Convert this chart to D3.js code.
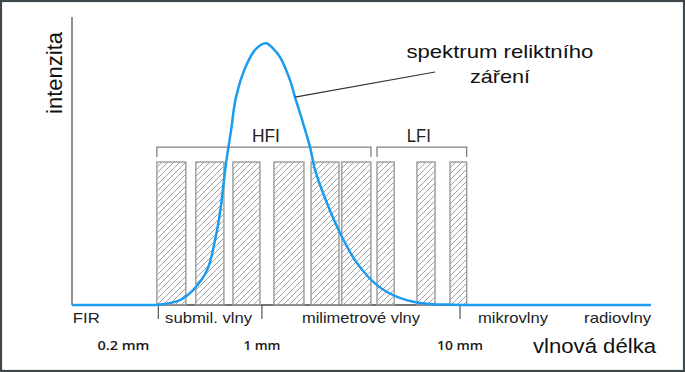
<!DOCTYPE html>
<html>
<head>
<meta charset="utf-8">
<script src="https://cdn.jsdelivr.net/npm/d3@7"></script>
<style>
  html, body { margin: 0; padding: 0; background: #fff; }
  svg { display: block; font-family: "Liberation Sans", Arial, sans-serif; }
</style>
</head>
<body>
<div id="chart"></div>
<script>
// relic radiation spectrum: wavelength in mm (log axis), intensity relative to the peak
const curveLambda = [0.11, 0.243, 0.306, 0.386, 0.449, 0.529, 0.58, 0.614, 0.659, 0.699, 0.74, 0.831, 0.933, 1.049, 1.137, 1.234, 1.386, 1.469, 1.613, 1.749, 1.854, 2.034, 2.478, 3.02, 3.811, 4.81, 6.28, 9.22, 15, 92]
const curveIntensity = [0, 0, 0.002, 0.019, 0.057, 0.134, 0.248, 0.351, 0.542, 0.668, 0.794, 0.913, 0.978, 1.0, 0.98, 0.947, 0.859, 0.794, 0.695, 0.603, 0.516, 0.428, 0.275, 0.16, 0.076, 0.031, 0.008, 0.001, 0, 0]

// detector channels (mm)
const channelStart = [0.295, 0.464, 0.714, 1.15, 1.77, 2.53, 3.81, 6.06, 8.9]
const channelEnd = [0.413, 0.643, 0.977, 1.63, 2.45, 3.55, 4.65, 7.48, 10.8]
const channelLevel = 0.546

// instruments and which channels they cover
const instruments = ["HFI", "LFI"]
const instrumentFirst = [0, 6]
const instrumentLast = [5, 8]

// wavelength bands
const bandNames = ["FIR", "submil. vlny", "milimetrové vlny", "mikrovlny", "radiovlny"]
const bandEdges = [0.3, 1, 10]

// tick labels under the axis
const tickValues = [0.2, 1, 10]
const tickLabels = ["0.2 mm", "1 mm", "10 mm"]

const width = 685
const height = 372

const svg = d3
  .select("#chart")
  .append("svg")
  .attr("width", width)
  .attr("height", height)

// frame
svg
  .append("rect")
  .attr("x", 1)
  .attr("y", 1)
  .attr("width", width - 2)
  .attr("height", height - 2)
  .attr("fill", "#fff")
  .attr("stroke", "#3e484c")
  .attr("stroke-width", 2.2)

const xScale = d3.scaleLog().domain([0.11, 92]).range([72, 651])
const yScale = d3.scaleLinear().domain([0, 1.1]).range([305, 17])

// hatch pattern for the channels
const defs = svg.append("defs")
const pattern = defs
  .append("pattern")
  .attr("id", "hatch")
  .attr("patternUnits", "userSpaceOnUse")
  .attr("width", 6)
  .attr("height", 6)
pattern
  .append("path")
  .attr("d", "M0,6 L6,0 M-1.5,1.5 L1.5,-1.5 M4.5,7.5 L7.5,4.5")
  .attr("stroke", "#8a8a8a")
  .attr("stroke-width", 0.8)

// axes
svg
  .append("line")
  .attr("x1", xScale.range()[0])
  .attr("x2", xScale.range()[0])
  .attr("y1", yScale.range()[1])
  .attr("y2", yScale(0))
  .attr("stroke", "#555")
  .attr("stroke-width", 1.3)

svg
  .append("line")
  .attr("x1", xScale.range()[0])
  .attr("x2", xScale.range()[1])
  .attr("y1", yScale(0))
  .attr("y2", yScale(0))
  .attr("stroke", "#444")
  .attr("stroke-width", 1.3)

// band boundary ticks
svg
  .selectAll(".edge")
  .data(bandEdges)
  .enter()
  .append("line")
  .attr("x1", d => xScale(d))
  .attr("x2", d => xScale(d))
  .attr("y1", yScale(0))
  .attr("y2", yScale(0) + 14)
  .attr("stroke", "#555")
  .attr("stroke-width", 1.2)

// channels
const channels = channelStart.map((s, i) => ({ start: s, end: channelEnd[i] }))
svg
  .selectAll(".channel")
  .data(channels)
  .enter()
  .append("rect")
  .attr("x", d => xScale(d.start))
  .attr("y", yScale(channelLevel))
  .attr("width", d => xScale(d.end) - xScale(d.start))
  .attr("height", yScale(0) - yScale(channelLevel))
  .attr("fill", "url(#hatch)")
  .attr("stroke", "#9a9a9a")
  .attr("stroke-width", 1.4)

// instrument brackets
const bracketTop = yScale(channelLevel) - 15
const bracketData = instruments.map((name, i) => ({
  name,
  x0: xScale(channelStart[instrumentFirst[i]]),
  x1: xScale(channelEnd[instrumentLast[i]]),
}))
svg
  .selectAll(".bracket")
  .data(bracketData)
  .enter()
  .append("path")
  .attr("d", d => `M${d.x0},${bracketTop + 10} V${bracketTop} H${d.x1} V${bracketTop + 10}`)
  .attr("fill", "none")
  .attr("stroke", "#808080")
  .attr("stroke-width", 1.3)

svg
  .selectAll(".instr")
  .data(bracketData)
  .enter()
  .append("text")
  .attr("x", d => (d.x0 + d.x1) / 2 + (d.name === "HFI" ? 2 : -3))
  .attr("y", bracketTop - 5)
  .attr("text-anchor", "middle")
  .attr("font-size", "17.5px")
  .attr("fill", "#222")
  .attr("textLength", d => (d.name === "HFI" ? 28 : 24))
  .attr("lengthAdjust", "spacingAndGlyphs")
  .text(d => d.name)

// spectrum curve
const curvePoints = curveLambda.map((l, i) => [l, curveIntensity[i]])
const line = d3
  .line()
  .x(d => xScale(d[0]))
  .y(d => Math.min(yScale(0), yScale(d[1])))
  .curve(d3.curveCatmullRom.alpha(0.5))

svg
  .append("path")
  .attr("d", line(curvePoints))
  .attr("fill", "none")
  .attr("stroke", "#1b9cf0")
  .attr("stroke-width", 2.5)

// annotation
svg
  .append("line")
  .attr("x1", xScale(1.469))
  .attr("y1", yScale(0.794))
  .attr("x2", xScale(7.48))
  .attr("y2", yScale(0.89))
  .attr("stroke", "#333")
  .attr("stroke-width", 1.2)

const noteLines = ["spektrum reliktního", "záření"]
const noteLengths = [187, 60]
svg
  .selectAll(".note")
  .data(noteLines)
  .enter()
  .append("text")
  .attr("x", xScale(15.9))
  .attr("y", (d, i) => 58 + i * 25)
  .attr("text-anchor", "middle")
  .attr("font-size", "18.5px")
  .attr("fill", "#111")
  .attr("textLength", (d, i) => noteLengths[i])
  .attr("lengthAdjust", "spacingAndGlyphs")
  .text(d => d)

// band labels
const bandLabelAt = [0.13, 0.538, 3.16, 18.5, 62.4]
const bandLengths = [27, 87, 118, 70, 67]
svg
  .selectAll(".band")
  .data(bandNames)
  .enter()
  .append("text")
  .attr("x", (d, i) => xScale(bandLabelAt[i]))
  .attr("y", 323)
  .attr("text-anchor", "middle")
  .attr("font-size", "14.5px")
  .attr("fill", "#222")
  .attr("textLength", (d, i) => bandLengths[i])
  .attr("lengthAdjust", "spacingAndGlyphs")
  .text(d => d)

// wavelength tick labels
const tickLengths = [52, 37, 46]
svg
  .selectAll(".tick-label")
  .data(tickValues)
  .enter()
  .append("text")
  .attr("x", d => xScale(d))
  .attr("y", 350)
  .attr("text-anchor", "middle")
  .attr("font-family", "'Open Sans', sans-serif")
  .attr("font-weight", 600)
  .attr("font-size", "13px")
  .attr("fill", "#1a1a1a")
  .attr("textLength", (d, i) => tickLengths[i])
  .attr("lengthAdjust", "spacingAndGlyphs")
  .text((d, i) => tickLabels[i])

// axis titles
svg
  .append("text")
  .attr("x", 656)
  .attr("y", 353)
  .attr("text-anchor", "end")
  .attr("font-size", "20.5px")
  .attr("fill", "#111")
  .attr("textLength", 123)
  .attr("lengthAdjust", "spacingAndGlyphs")
  .text("vlnová délka")

svg
  .append("text")
  .attr("transform", "translate(62, 73) rotate(-90)")
  .attr("text-anchor", "middle")
  .attr("font-size", "21.5px")
  .attr("fill", "#111")
  .attr("textLength", 82)
  .attr("lengthAdjust", "spacingAndGlyphs")
  .text("intenzita")
</script>
</body>
</html>
